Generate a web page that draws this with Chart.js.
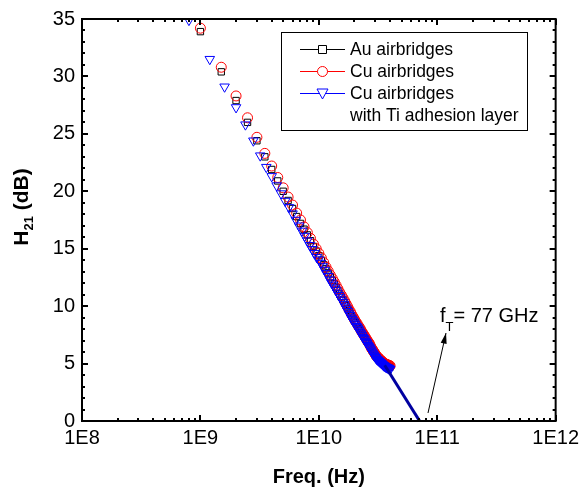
<!DOCTYPE html>
<html><head><meta charset="utf-8">
<script src="https://cdn.jsdelivr.net/npm/chart.js@4"></script>
<style>html,body{margin:0;padding:0;background:#fff}#wrap{width:584px;height:493px}canvas{display:block}</style>
</head><body>
<div id="wrap"><canvas id="c" width="584" height="493"></canvas></div>
<script>
// ---- data ----
const freqAuCuGHz = [1,1.5,2,2.5,3,3.5,4,4.5,5,5.5,6,6.5,7,7.5,8,8.5,9,9.5,10,10.5,11,11.5,12,12.5,13,13.5,14,14.5,15,15.5,16,16.5,17,17.5,18,18.5,19,19.5,20,20.5,21,21.5,22,22.5,23,23.5,24,24.5,25,25.5,26,26.5,27,27.5,28,28.5,29,29.5,30,30.5,31,31.5,32,32.5,33,33.5,34,34.5,35,35.5,36,36.5,37,37.5,38,38.5,39,39.5,40];
const auH21 = [33.9,30.4,27.9,26.0,24.4,23.0,21.9,20.9,20.0,19.2,18.5,17.8,17.2,16.7,16.2,15.7,15.2,14.8,14.4,14.0,13.6,13.25,12.9,12.55,12.25,11.95,11.65,11.35,11.05,10.8,10.55,10.3,10.05,9.8,9.6,9.4,9.15,8.95,8.75,8.55,8.4,8.2,8.05,7.9,7.7,7.55,7.4,7.25,7.1,6.95,6.8,6.7,6.55,6.35,6.2,6.1,5.95,5.85,5.7,5.6,5.5,5.45,5.35,5.3,5.25,5.15,5.1,5.05,5.0,4.95,4.9,4.85,4.85,4.8,4.8,4.75,4.75,4.7,4.7];
const cuH21 = [34.2,30.8,28.3,26.4,24.7,23.3,22.2,21.2,20.3,19.5,18.8,18.1,17.5,16.9,16.4,15.9,15.4,15.0,14.6,14.2,13.8,13.4,13.05,12.7,12.4,12.1,11.8,11.5,11.2,10.95,10.7,10.45,10.2,9.95,9.7,9.5,9.25,9.05,8.85,8.65,8.5,8.3,8.15,8.0,7.8,7.65,7.5,7.35,7.2,7.05,6.9,6.8,6.65,6.45,6.3,6.2,6.05,5.95,5.8,5.7,5.6,5.55,5.45,5.4,5.35,5.25,5.2,5.15,5.1,5.05,5.0,4.95,4.95,4.9,4.9,4.85,4.85,4.8,4.8];
const freqTiGHz = [0.8,1.2,1.6,2.0,2.4,2.8,3.2,3.6,4.0,4.4,4.8,5.2,5.6,6.0,6.4,6.8,7.2,7.6,8.0,8.4,8.8,9.2,9.6,10.0,10.4,10.8,11.2,11.6,12.0,12.4,12.8,13.2,13.6,14.0,14.4,14.8,15.2,15.6,16.0,16.4,16.8,17.2,17.6,18.0,18.4,18.8,19.2,19.6,20.0,20.4,20.8,21.2,21.6,22.0,22.4,22.8,23.2,23.6,24.0,24.4,24.8,25.2,25.6,26.0,26.4,26.8,27.2,27.6,28.0,28.4,28.8,29.2,29.6,30.0,30.4,30.8,31.2,31.6,32.0,32.4,32.8,33.2,33.6,34.0,34.4,34.8,35.2,35.6,36.0,36.4,36.8,37.2,37.6,38.0,38.4,38.8,39.2,39.6,40.0];
const tiH21 = [34.9,31.5,29.1,27.3,25.8,24.4,23.1,22.1,21.3,20.5,19.8,19.15,18.6,18.05,17.5,17.0,16.55,16.1,15.7,15.3,14.95,14.6,14.25,14.05,13.75,13.45,13.15,12.85,12.6,12.3,12.05,11.85,11.6,11.4,11.15,10.95,10.75,10.55,10.35,10.15,9.95,9.75,9.55,9.35,9.2,9.0,8.85,8.7,8.55,8.4,8.25,8.15,8.0,7.85,7.7,7.6,7.45,7.3,7.2,7.1,6.95,6.85,6.75,6.6,6.5,6.4,6.3,6.2,6.05,5.95,5.85,5.75,5.65,5.55,5.5,5.4,5.35,5.3,5.25,5.2,5.15,5.1,5.05,5.0,4.95,4.9,4.85,4.8,4.8,4.75,4.7,4.7,4.65,4.65,4.6,4.6,4.55,4.55,4.5];
const extrapFreqGHz = [36, 71];
const extrapH21 = [4.85, 0];
const xTickValues = [1e8, 1e9, 1e10, 1e11, 1e12];
const xTickLabels = ['1E8', '1E9', '1E10', '1E11', '1E12'];
const yTickValues = [0, 5, 10, 15, 20, 25, 30, 35];
const seriesNames = ['Au airbridges', 'Cu airbridges', 'Cu airbridges', 'with Ti adhesion layer'];
const annotationText = ['f', 'T', '= 77 GHz'];

const toPts = (f, v) => f.map((g, i) => ({x: g * 1e9, y: v[i]}));
const FONT = "'Liberation Sans', Arial, sans-serif";

const frame = {
  id: 'frame',
  afterDraw(chart) {
    const {ctx, chartArea: a, scales: {x, y}} = chart;
    ctx.save();
    ctx.strokeStyle = '#000';
    ctx.lineWidth = 2;
    ctx.strokeRect(a.left, a.top, a.right - a.left, a.bottom - a.top);
    for (let v = 0; v <= 35; v++) {
      const py = Math.round(y.getPixelForValue(v));
      const len = v % 5 === 0 ? 6 : 3;
      ctx.beginPath();
      ctx.moveTo(a.left, py); ctx.lineTo(a.left + len, py);
      ctx.moveTo(a.right, py); ctx.lineTo(a.right - len, py);
      ctx.stroke();
    }
    for (let d = 8; d <= 12; d++) {
      for (let m = 1; m <= 9; m++) {
        if (d === 12 && m > 1) break;
        const px = Math.round(x.getPixelForValue(m * Math.pow(10, d)));
        const len = m === 1 ? 6 : 3;
        ctx.beginPath();
        ctx.moveTo(px, a.bottom); ctx.lineTo(px, a.bottom - len);
        ctx.moveTo(px, a.top); ctx.lineTo(px, a.top + len);
        ctx.stroke();
      }
    }
    // legend
    ctx.lineWidth = 1;
    ctx.strokeRect(281.5, 32.5, 246, 98);
    const rows = [49, 71, 93];
    const cols = ['#000000', '#ff0000', '#0000ff'];
    rows.forEach((ry, i) => {
      ctx.strokeStyle = cols[i];
      ctx.beginPath(); ctx.moveTo(300, ry + 0.5); ctx.lineTo(345, ry + 0.5); ctx.stroke();
      ctx.fillStyle = '#fff';
      ctx.beginPath();
      if (i === 0) { ctx.rect(318.5, ry - 3.5, 8, 8); }
      else if (i === 1) { ctx.arc(322.5, ry + 0.5, 5, 0, Math.PI * 2); }
      else { ctx.moveTo(317, ry - 4); ctx.lineTo(328, ry - 4); ctx.lineTo(322.5, ry + 6); ctx.closePath(); }
      ctx.fill(); ctx.stroke();
    });
    ctx.fillStyle = '#000';
    ctx.font = '17.5px ' + FONT;
    ctx.textBaseline = 'middle';
    ctx.textAlign = 'left';
    seriesNames.forEach((t, i) => ctx.fillText(t, 350, [49, 71, 93, 115][i] + 1));
    // annotation
    ctx.strokeStyle = '#000';
    ctx.lineWidth = 1;
    const x0 = 428, y0 = 413, x1 = 446, y1 = 333;
    ctx.beginPath(); ctx.moveTo(x0, y0); ctx.lineTo(x1, y1); ctx.stroke();
    const ang = Math.atan2(y1 - y0, x1 - x0);
    ctx.beginPath();
    ctx.moveTo(x1, y1);
    ctx.lineTo(x1 - 11 * Math.cos(ang - 0.28), y1 - 11 * Math.sin(ang - 0.28));
    ctx.lineTo(x1 - 11 * Math.cos(ang + 0.28), y1 - 11 * Math.sin(ang + 0.28));
    ctx.closePath(); ctx.fill();
    ctx.textBaseline = 'alphabetic';
    ctx.font = '20px ' + FONT;
    ctx.fillText(annotationText[0], 440, 322);
    const fw = ctx.measureText(annotationText[0]).width;
    ctx.font = '13px ' + FONT;
    ctx.fillText(annotationText[1], 440 + fw, 331);
    const tw = ctx.measureText(annotationText[1]).width;
    ctx.font = '20px ' + FONT;
    ctx.fillText(annotationText[2], 440 + fw + tw, 322);
    // axis titles
    ctx.font = 'bold 20px ' + FONT;
    ctx.textAlign = 'center';
    ctx.fillText('Freq. (Hz)', (a.left + a.right) / 2, 483);
    ctx.save();
    ctx.translate(28, 207);
    ctx.rotate(-Math.PI / 2);
    ctx.textAlign = 'left';
    const parts = [['H', 'bold 21px ', 0], ['21', 'bold 13px ', 5], [' (dB)', 'bold 21px ', 0]];
    let total = 0;
    parts.forEach(p => { ctx.font = p[1] + FONT; total += ctx.measureText(p[0]).width; });
    let cx = -total / 2;
    parts.forEach(p => { ctx.font = p[1] + FONT; ctx.fillText(p[0], cx, p[2]); cx += ctx.measureText(p[0]).width; });
    ctx.restore();
    ctx.restore();
  }
};

const mk = (label, data, color, style, radius, rot, order) => ({
  label, data, borderColor: color, backgroundColor: 'rgba(0,0,0,0)',
  borderWidth: 1, pointStyle: style, pointRadius: radius, pointRotation: rot,
  pointBorderColor: color, pointBackgroundColor: 'rgba(0,0,0,0)', pointBorderWidth: 1,
  showLine: false, order
});

new Chart(document.getElementById('c'), {
  type: 'scatter',
  data: {
    datasets: [
      mk(seriesNames[0], toPts(freqAuCuGHz, auH21), '#000000', 'rect', 4.5, 0, 4),
      mk(seriesNames[1], toPts(freqAuCuGHz, cuH21), '#ff0000', 'circle', 5, 0, 3),
      mk(seriesNames[2] + ' ' + seriesNames[3], toPts(freqTiGHz, tiH21), '#0000ff', 'triangle', 5.5, 180, 2),
      {label: 'extrapolation', data: toPts(extrapFreqGHz, extrapH21), borderColor: '#0000a0', borderWidth: 3, pointRadius: 0, showLine: true, order: 1}
    ]
  },
  options: {
    responsive: false, animation: false, devicePixelRatio: 1,
    layout: {padding: {left: 0, right: 22, top: 16, bottom: 0}},
    plugins: {legend: {display: false}, tooltip: {enabled: false}},
    scales: {
      x: {
        type: 'logarithmic', min: 1e8, max: 1e12,
        grid: {display: false, drawTicks: false}, border: {display: false},
        afterBuildTicks: s => { s.ticks = xTickValues.map(v => ({value: v})); },
        afterFit: s => { s.height = 72; },
        ticks: {autoSkip: false, maxRotation: 0, padding: 5, color: '#000',
          font: {family: FONT, size: 20},
          callback: (v, i) => xTickLabels[i]}
      },
      y: {
        type: 'linear', min: 0, max: 35,
        grid: {display: false, drawTicks: false}, border: {display: false},
        afterBuildTicks: s => { s.ticks = yTickValues.map(v => ({value: v})); },
        afterFit: s => { s.width = 82; },
        ticks: {padding: 7, color: '#000', font: {family: FONT, size: 20}}
      }
    }
  },
  plugins: [frame]
});
</script>
</body></html>
